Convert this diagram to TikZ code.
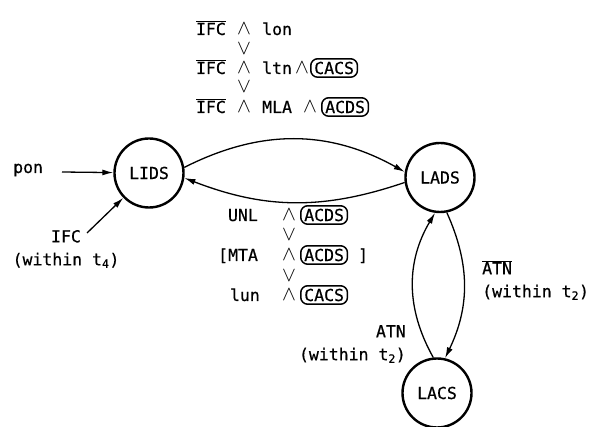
\documentclass[tikz,border=0pt]{standalone}
\usepackage{fontspec}
\setmainfont{DejaVu Sans Mono}[FakeBold=0.6]
\usepackage{tikz}
\usetikzlibrary{arrows.meta,positioning}

\begin{document}
\begin{tikzpicture}[x=1pt,y=1pt,
    font=\fontsize{16.5}{23}\selectfont,
    >={Latex[length=11pt,width=6pt]},
    state/.style={circle, draw, line width=2.4pt, minimum size=69pt, inner sep=0pt},
    edge/.style={->, line width=1.3pt},
    lbl/.style={inner sep=0pt},
    op/.style={inner sep=0pt, font=\fontsize{21}{21}\selectfont},
    cbox/.style={draw, line width=1.5pt, rounded corners=7pt, inner xsep=3.5pt, inner ysep=3pt}]
  \useasboundingbox (0,0) rectangle (592,426);

  % States
  \node[state] (LIDS) at (149,253) {LIDS};
  \node[state] (LADS) at (440,248.5) {LADS};
  \node[state] (LACS) at (437,33) {LACS};

  % Inputs to LIDS
  \node[lbl, anchor=base west] (pon) at (13,253) {pon};
  \coordinate (ponstart) at (62,254);
  \draw[edge] (ponstart) -- (LIDS);
  \node[lbl, align=center] (ifcin) at (66,177) {IFC\\(within t\textsubscript{4})};
  \coordinate (ifcstart) at (87,193);
  \draw[edge] (ifcstart) -- (LIDS);

  % Transitions
  \draw[edge] (LIDS.9) to[bend left=28] (LADS.171);
  \draw[edge] (LADS.188) to[bend left=20] (LIDS.-8);
  \draw[edge] (LADS.-79) to[bend left=25] (LACS.77);
  \draw[edge] (LACS.96) to[bend left=30] (LADS.-98);

  % Condition LIDS -> LADS
  \node[lbl, anchor=base east] (ifcA) at (226,391) {$\overline{\hbox{IFC}}$};
  \node[op, anchor=base] (andA) at (244,391) {$\wedge$};
  \node[lbl, anchor=base west] (lon) at (262,391) {lon};
  \node[op] (orA) at (244,377) {$\vee$};
  \node[lbl, anchor=base east] (ifcB) at (226,352) {$\overline{\hbox{IFC}}$};
  \node[op, anchor=base] (andB) at (244,352) {$\wedge$};
  \node[lbl, anchor=base west] (ltn) at (262,352) {ltn};
  \node[op, anchor=base] (andC) at (302,352) {$\wedge$};
  \node[cbox, anchor=west] (cacsA) at (310,358) {CACS};
  \node[op] (orB) at (244,339) {$\vee$};
  \node[lbl, anchor=base east] (ifcC) at (226,313) {$\overline{\hbox{IFC}}$};
  \node[op, anchor=base] (andD) at (244,313) {$\wedge$};
  \node[lbl, anchor=base west] (mla) at (262,313) {MLA};
  \node[op, anchor=base] (andE) at (310,313) {$\wedge$};
  \node[cbox, anchor=west] (acdsA) at (321,319) {ACDS};

  % Condition LADS -> LIDS
  \node[lbl, anchor=base east] (unl) at (258,205) {UNL};
  \node[op, anchor=base] (andF) at (289,205) {$\wedge$};
  \node[cbox, anchor=west] (acdsB) at (300,211) {ACDS};
  \node[op] (orC) at (289,191) {$\vee$};
  \node[lbl, anchor=base west] (mta) at (218,165) {[MTA};
  \node[op, anchor=base] (andG) at (289,165) {$\wedge$};
  \node[cbox, anchor=west] (acdsC) at (300,171) {ACDS};
  \node[lbl, anchor=base west] (rbr) at (358,165) {]};
  \node[op] (orD) at (289,150) {$\vee$};
  \node[lbl, anchor=base east] (lun) at (260,125) {lun};
  \node[op, anchor=base] (andH) at (289,125) {$\wedge$};
  \node[cbox, anchor=west] (cacsB) at (300,131) {CACS};

  % Conditions LADS <-> LACS
  \node[lbl, align=left, anchor=west] (atnoff) at (482,146) {$\overline{\hbox{ATN}}$\\(within t\textsubscript{2})};
  \node[lbl, align=right, anchor=east] (atnon) at (406,82) {ATN\\(within t\textsubscript{2})};
\end{tikzpicture}
\end{document}
